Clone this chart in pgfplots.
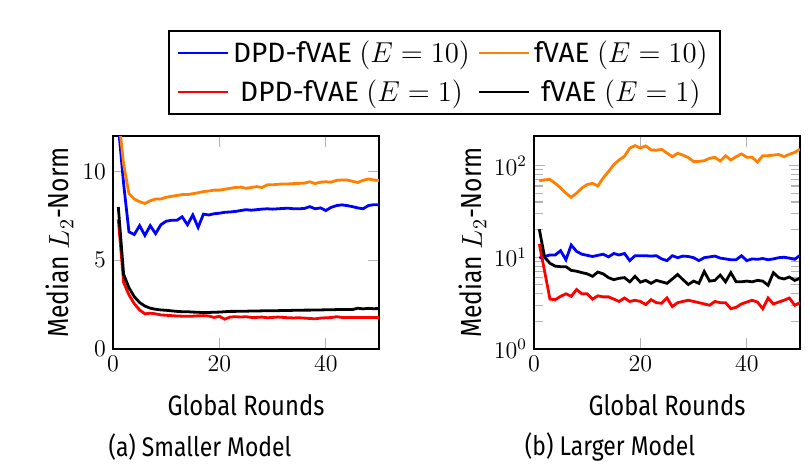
\documentclass[border=0pt]{standalone}
\usepackage{fontspec}
\setmainfont{Fira Sans}
\newfontfamily\condfont{Fira Sans}[FakeStretch=0.85]
\usepackage{pgfplots}
\pgfplotsset{compat=1.18}
\usepackage{pgfplotstable}

% columns: round, DPD-fVAE E=10, fVAE E=10, DPD-fVAE E=1, fVAE E=1
\pgfplotstableread{
x dpdten fvaeten dpdone fvaeone
1 12.6 13.2 7.3 8.0
2 9.3 10.4 3.75 4.2
3 6.6 8.75 3.05 3.45
4 6.45 8.45 2.55 2.95
5 6.95 8.3 2.2 2.62
6 6.4 8.2 1.98 2.42
7 6.95 8.35 2.02 2.3
8 6.5 8.45 1.98 2.24
9 7.0 8.45 1.92 2.2
10 7.2 8.55 1.9 2.18
11 7.25 8.6 1.88 2.15
12 7.25 8.65 1.86 2.12
13 7.45 8.7 1.85 2.1
14 7.0 8.7 1.84 2.1
15 7.55 8.75 1.85 2.08
16 6.85 8.8 1.87 2.07
17 7.6 8.87 1.88 2.05
18 7.55 8.9 1.86 2.06
19 7.62 8.95 1.78 2.07
20 7.65 8.95 1.84 2.08
21 7.7 9.0 1.68 2.1
22 7.72 9.05 1.8 2.12
23 7.75 9.1 1.82 2.12
24 7.8 9.12 1.8 2.13
25 7.85 9.05 1.82 2.13
26 7.82 9.1 1.78 2.14
27 7.85 9.15 1.78 2.14
28 7.88 9.1 1.8 2.15
29 7.9 9.25 1.76 2.15
30 7.88 9.25 1.78 2.16
31 7.9 9.28 1.8 2.16
32 7.92 9.3 1.78 2.17
33 7.93 9.3 1.76 2.17
34 7.9 9.32 1.75 2.18
35 7.9 9.33 1.76 2.18
36 7.92 9.35 1.74 2.19
37 8.02 9.42 1.72 2.19
38 7.9 9.32 1.7 2.2
39 7.95 9.4 1.74 2.2
40 7.8 9.42 1.76 2.21
41 7.98 9.4 1.77 2.21
42 8.08 9.5 1.82 2.22
43 8.12 9.52 1.78 2.22
44 8.08 9.52 1.77 2.23
45 8.02 9.45 1.78 2.22
46 7.95 9.38 1.77 2.3
47 7.9 9.5 1.78 2.26
48 8.08 9.58 1.77 2.29
49 8.13 9.52 1.78 2.27
50 8.13 9.5 1.77 2.28
}\smallmodel

\pgfplotstableread{
x dpdten fvaeten dpdone fvaeone
1 9.8 68 14 20.2
2 10.2 70 7.0 10.0
3 10.6 70.5 3.5 8.6
4 10.6 64 3.45 8.0
5 11.8 57 3.75 7.9
6 9.4 50 4.0 7.9
7 13.6 45 3.75 7.2
8 11.6 50 4.45 7.05
9 10.8 57 4.0 6.8
10 10.5 62 4.0 6.6
11 10.2 64 3.5 6.2
12 10.5 60 3.8 6.9
13 10.8 73 3.7 6.6
14 10.1 86 3.7 6.0
15 11.0 102 3.5 5.7
16 10.6 115 3.3 5.9
17 11.0 126 3.6 6.0
18 9.2 155 3.3 5.4
19 10.4 165 3.4 6.2
20 10.4 155 3.3 5.35
21 10.4 164 3.05 5.6
22 10.3 148 3.45 5.2
23 10.4 147 3.2 5.6
24 9.6 150 3.15 5.4
25 9.2 137 3.6 5.2
26 10.4 125 2.9 5.8
27 9.9 136 3.2 6.5
28 10.3 130 3.3 5.7
29 10.2 122 3.4 5.05
30 9.9 111 3.3 5.5
31 9.2 111 3.2 5.2
32 9.9 113 3.1 7.0
33 10.1 120 3.0 5.5
34 10.3 123 3.3 5.6
35 9.8 112 3.2 6.4
36 9.6 128 3.2 5.4
37 9.4 115 2.75 6.8
38 9.4 125 2.85 5.4
39 10.4 134 3.1 5.4
40 9.2 123 3.25 5.5
41 9.6 123 3.4 5.4
42 9.5 109 3.25 5.6
43 9.7 128 2.75 5.5
44 9.4 128 3.6 4.95
45 9.6 130 3.1 6.8
46 9.9 132 3.25 6.0
47 10.0 125 3.4 5.8
48 9.8 133 3.6 6.1
49 9.5 139 3.0 5.6
50 10.5 151 3.2 5.9
}\largemodel

\pgfplotsset{
  panel/.style={
    scale only axis,
    width=133pt, height=106.5pt,
    anchor=south west,
    xmin=0, xmax=50,
    xtick={0,20,40},
    axis line style={line width=1.2pt},
    tick style={gray!60, line width=0.6pt},
    major tick length=5.5pt,
    minor tick length=4.5pt,
    tick label style={font=\fontsize{11.5}{13}\selectfont},
    xlabel={Global Rounds},
    x label style={at={(axis description cs:0.5,-0.265)}, anchor=center,
      font=\condfont\fontsize{14}{16}\selectfont},
    ylabel={Median $L_2$-Norm},
    y label style={font=\condfont\fontsize{14.5}{17}\selectfont},
    legend image code/.code={\draw[#1, line width=1pt] (0pt,0pt) -- (25pt,0pt);},
  },
  curve/.style={line width=1.4pt, no marks},
}

\begin{document}
\begin{tikzpicture}
\useasboundingbox (0pt,0pt) rectangle (405pt,-233pt);

\begin{axis}[panel,
    at={(56.5pt,-174.5pt)},
    ymin=0, ymax=12,
    ytick={0,5,10},
    y label style={at={(axis description cs:-0.2,0.5)}, anchor=center},
    legend columns=2,
    legend style={at={(1.246,1.298)}, anchor=center,
      draw=black, line width=1pt,
      font=\fontsize{14}{16}\selectfont,
      inner xsep=4pt, inner ysep=3pt, row sep=3pt,
      /tikz/every even column/.append style={column sep=2pt}},
]
\addplot[curve, blue] table[x=x, y=dpdten] {\smallmodel};
\addplot[curve, orange] table[x=x, y=fvaeten] {\smallmodel};
\addplot[curve, red] table[x=x, y=dpdone] {\smallmodel};
\addplot[curve, black] table[x=x, y=fvaeone] {\smallmodel};
\legend{DPD-fVAE $(E=10)$, fVAE $(E=10)$, DPD-fVAE $(E=1)$, fVAE $(E=1)$}
\end{axis}

\begin{axis}[panel,
    at={(267pt,-174.5pt)},
    ymode=log,
    ymin=1, ymax=210,
    ytick={1,10,100},
    y label style={at={(axis description cs:-0.23,0.5)}, anchor=center},
]
\addplot[curve, blue] table[x=x, y=dpdten] {\largemodel};
\addplot[curve, orange] table[x=x, y=fvaeten] {\largemodel};
\addplot[curve, red] table[x=x, y=dpdone] {\largemodel};
\addplot[curve, black] table[x=x, y=fvaeone] {\largemodel};
\end{axis}

\node[font=\condfont\fontsize{13.5}{15}\selectfont] at (100pt,-223.5pt) {(a) Smaller Model};
\node[font=\condfont\fontsize{13.5}{15}\selectfont] at (305pt,-223.5pt) {(b) Larger Model};
\end{tikzpicture}
\end{document}
